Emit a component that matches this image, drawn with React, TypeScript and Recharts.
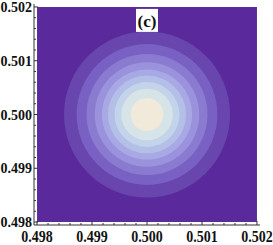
import React from "react";
import {
  ScatterChart,
  Scatter,
  XAxis,
  YAxis,
  ReferenceArea,
  ReferenceDot,
} from "recharts";

// contour plot around (0.5, 0.5): radius of each contour line, outermost first
const centerX = 0.5;
const centerY = 0.5;
const contourRadii = [0.00151, 0.00128, 0.0011, 0.00095, 0.00082, 0.00071, 0.00059, 0.00047, 0.0003];
const contourColors = [
  "#6846ae",
  "#7861c2",
  "#8a7bd1",
  "#9a92dc",
  "#a8a8e4",
  "#b4bfe8",
  "#c3d3ea",
  "#d6e3e7",
  "#f1e9d9",
];
const backgroundColor = "#5a2a9c";
const panelLabel = "(c)";
const panelLabelY = 0.50175;

const majorTicks = [0.498, 0.499, 0.5, 0.501, 0.502];
const allTicks = [
  0.498, 0.4982, 0.4984, 0.4986, 0.4988,
  0.499, 0.4992, 0.4994, 0.4996, 0.4998,
  0.5, 0.5002, 0.5004, 0.5006, 0.5008,
  0.501, 0.5012, 0.5014, 0.5016, 0.5018,
  0.502,
];
const tickLabels = ["0.498", "0.499", "0.500", "0.501", "0.502"];

const W = 273;
const H = 245;
const LEFT = 34;
const PLOT_W = 226;
const DOMAIN: [number, number] = [0.497945, 0.502055];
const PX_PER_UNIT = PLOT_W / (DOMAIN[1] - DOMAIN[0]);
const FRAME = "#333";
const FONT = "'Liberation Serif', 'Times New Roman', serif";

const rings = contourRadii.map((r, i) => ({
  x: centerX,
  y: centerY,
  r,
  color: contourColors[i],
}));

const majorIndex = (v: number) => majorTicks.findIndex((m) => Math.abs(m - v) < 1e-9);

function makeTick(side: "left" | "bottom" | "top" | "right") {
  return (props: any) => {
    const { x, y, payload } = props;
    const mi = majorIndex(payload.value);
    const len = mi >= 0 ? 4 : 2;
    let line;
    if (side === "left") line = <line x1={x} x2={x + len} y1={y} y2={y} />;
    else if (side === "right") line = <line x1={x} x2={x - len} y1={y} y2={y} />;
    else if (side === "bottom") line = <line x1={x} x2={x} y1={y} y2={y - len} />;
    else line = <line x1={x} x2={x} y1={y} y2={y + len} />;
    let label = null;
    if (mi >= 0 && side === "left") {
      label = (
        <text x={x - 2} y={y} dy="0.36em" textAnchor="end">
          {tickLabels[mi]}
        </text>
      );
    } else if (mi >= 0 && side === "bottom") {
      // bottom labels are drawn a little taller in the original
      label = (
        <g transform={`translate(${x},${y + 17}) scale(1,1.25)`}>
          <text x={0} y={0} textAnchor="middle">
            {tickLabels[mi]}
          </text>
        </g>
      );
    }
    return (
      <g stroke={FRAME} strokeWidth={1}>
        {line}
        {label && (
          <g stroke="none" fill="#111" fontFamily={FONT} fontWeight="bold" fontSize={14}>
            {label}
          </g>
        )}
      </g>
    );
  };
}

const Ring = (props: any) => {
  const { cx, cy, payload } = props;
  return <circle cx={cx} cy={cy} r={payload.r * PX_PER_UNIT} fill={payload.color} />;
};

export default function App() {
  return (
    <div style={{ position: "absolute", left: 0, top: 0, width: W, height: H, background: "#fff" }}>
      <ScatterChart
        width={W}
        height={H}
        margin={{ top: 4, right: W - LEFT - PLOT_W, bottom: 0, left: 0 }}
      >
        <XAxis
          xAxisId="bottom"
          type="number"
          dataKey="x"
          domain={DOMAIN}
          allowDataOverflow
          ticks={allTicks}
          interval={0}
          height={20}
          tickSize={0}
          tickMargin={0}
          tickLine={false}
          axisLine={{ stroke: FRAME }}
          tick={makeTick("bottom")}
        />
        <XAxis
          xAxisId="top"
          orientation="top"
          type="number"
          domain={DOMAIN}
          allowDataOverflow
          ticks={allTicks}
          interval={0}
          height={0}
          tickSize={0}
          tickMargin={0}
          tickLine={false}
          axisLine={{ stroke: FRAME }}
          tick={makeTick("top")}
        />
        <YAxis
          yAxisId="left"
          type="number"
          dataKey="y"
          domain={DOMAIN}
          allowDataOverflow
          ticks={allTicks}
          interval={0}
          width={LEFT}
          tickSize={0}
          tickMargin={0}
          tickLine={false}
          axisLine={{ stroke: FRAME }}
          tick={makeTick("left")}
        />
        <YAxis
          yAxisId="right"
          orientation="right"
          type="number"
          domain={DOMAIN}
          allowDataOverflow
          ticks={allTicks}
          interval={0}
          width={0}
          tickSize={0}
          tickMargin={0}
          tickLine={false}
          axisLine={{ stroke: FRAME }}
          tick={makeTick("right")}
        />
        <ReferenceArea
          xAxisId="bottom"
          yAxisId="left"
          x1={majorTicks[0]}
          x2={majorTicks[majorTicks.length - 1]}
          y1={majorTicks[0]}
          y2={majorTicks[majorTicks.length - 1]}
          fill={backgroundColor}
          fillOpacity={1}
          stroke="none"
        />
        <Scatter
          xAxisId="bottom"
          yAxisId="left"
          data={rings}
          shape={Ring}
          isAnimationActive={false}
        />
        <ReferenceDot
          xAxisId="bottom"
          yAxisId="left"
          x={centerX}
          y={panelLabelY}
          r={0}
          zIndex={3000}
          shape={(p: any) => (
            <g>
              <rect x={p.cx - 11} y={p.cy - 11.5} width={22} height={23} fill="#fff" />
              <text
                x={p.cx}
                y={p.cy}
                dy="0.36em"
                textAnchor="middle"
                fontFamily={FONT}
                fontWeight="bold"
                fontSize={17}
                fill="#111"
              >
                {panelLabel}
              </text>
            </g>
          )}
        />
      </ScatterChart>
    </div>
  );
}
